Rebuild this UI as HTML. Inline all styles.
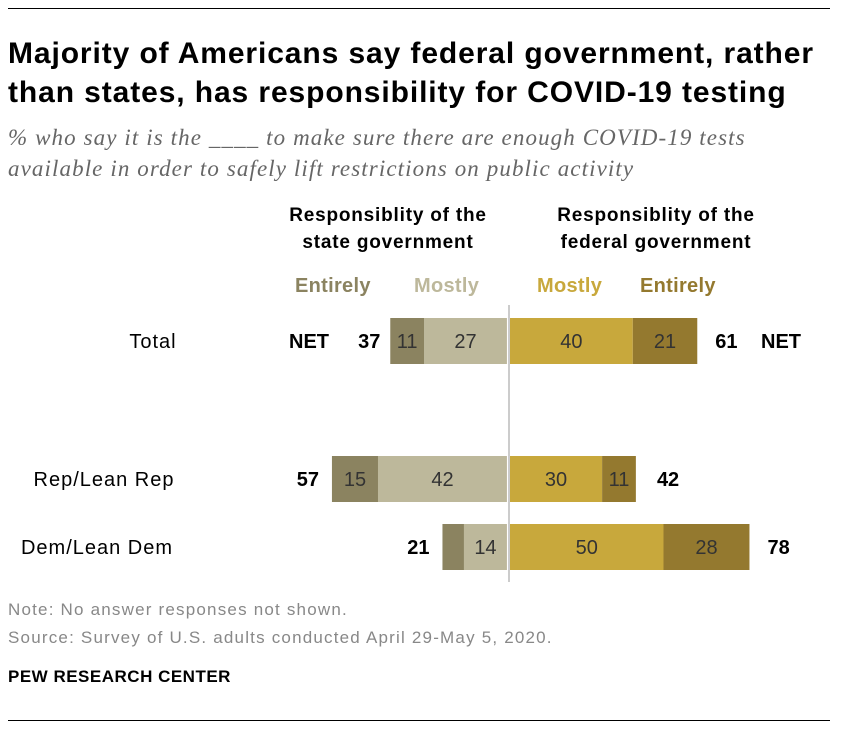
<!DOCTYPE html>
<html><head><meta charset="utf-8"><style>
body{margin:0;width:852px;height:734px;background:#fff;font-family:"Liberation Sans",sans-serif;position:relative;overflow:hidden}
.t{position:absolute;white-space:nowrap}
</style></head><body>
<div class="t" style="left:8px;top:8px;width:822px;height:1px;background:#000"></div>
<div class="t" style="left:8px;top:34px;font-size:30px;letter-spacing:0.9px;font-weight:bold;line-height:39px;color:#000">Majority of Americans say federal government, rather<br>than states, has responsibility for COVID-19 testing</div>
<div class="t" style="left:8px;top:122px;font-family:'Liberation Serif',serif;font-style:italic;font-size:23px;letter-spacing:1.1px;line-height:31px;color:#666">% who say it is the ____ to make sure there are enough COVID-19 tests<br>available in order to safely lift restrictions on public activity</div>
<div class="t" style="left:388px;top:202px;transform:translateX(-50%);text-align:center;font-size:19px;letter-spacing:0.8px;font-weight:bold;line-height:27px">Responsiblity of the<br>state government</div>
<div class="t" style="left:656px;top:202px;transform:translateX(-50%);text-align:center;font-size:19px;letter-spacing:0.8px;font-weight:bold;line-height:27px">Responsiblity of the<br>federal government</div>
<div class="t" style="left:295px;top:275px;font-size:20px;letter-spacing:0.3px;font-weight:bold;color:#8b8360">Entirely</div>
<div class="t" style="left:414px;top:275px;font-size:20px;letter-spacing:0.3px;font-weight:bold;color:#bdb89b">Mostly</div>
<div class="t" style="left:537px;top:275px;font-size:20px;letter-spacing:0.3px;font-weight:bold;color:#c8a83c">Mostly</div>
<div class="t" style="left:640px;top:275px;font-size:20px;letter-spacing:0.3px;font-weight:bold;color:#94792f">Entirely</div>
<svg id="chart" style="position:absolute;left:0;top:0" width="852" height="734"></svg>
<div class="t" style="left:8px;top:600px;font-size:17px;letter-spacing:1.2px;color:#888">Note: No answer responses not shown.</div>
<div class="t" style="left:8px;top:628px;font-size:17px;letter-spacing:1.2px;color:#888">Source: Survey of U.S. adults conducted April 29-May 5, 2020.</div>
<div class="t" style="left:8px;top:667px;font-size:17px;letter-spacing:0.5px;font-weight:bold">PEW RESEARCH CENTER</div>
<div class="t" style="left:8px;top:720px;width:822px;height:1px;background:#000"></div>
<script>
const categories=["Total","Rep/Lean Rep","Dem/Lean Dem"];
const stateEntirely=[11,15,7];
const stateMostly=[27,42,14];
const fedMostly=[40,30,50];
const fedEntirely=[21,11,28];
const stateNet=[37,57,21];
const fedNet=[61,42,78];
const ns="http://www.w3.org/2000/svg";
const svg=document.getElementById('chart');
const cx=510,k=3.07;
const rowY=[318,456,524],bh=46;
const labelCx=[153,104,97];
const x=v=>cx+v*k;
function add(tag,at,txt){const e=document.createElementNS(ns,tag);for(const a in at)e.setAttribute(a,at[a]);if(txt!==undefined)e.textContent=txt;svg.appendChild(e);return e;}
function seg(x0,x1,y,c,v,name){
 const r=add('rect',{x:Math.min(x0,x1),y:y,width:Math.abs(x1-x0),height:bh,fill:c});
 
 
 if(Math.abs(x1-x0)>24){const t=add('text',{x:(x0+x1)/2,y:y+bh/2+7,'text-anchor':'middle','font-size':20,fill:'#333','font-family':'Liberation Sans'},v);
 
 }
}
categories.forEach((c,i)=>{
 const y=rowY[i];
 const lab=add('text',{x:labelCx[i],y:y+bh/2+7,'text-anchor':'middle','font-size':20,'letter-spacing':1,fill:'#000','font-family':'Liberation Sans'},c);
 
 
 seg(x(-1),x(-1-stateMostly[i]),y,'#bdb89b',stateMostly[i],'bar-state-mostly');
 seg(x(-1-stateMostly[i]),x(-1-stateMostly[i]-stateEntirely[i]),y,'#8b8360',stateEntirely[i],'bar-state-entirely');
 seg(x(0),x(fedMostly[i]),y,'#c8a83c',fedMostly[i],'bar-federal-mostly');
 seg(x(fedMostly[i]),x(fedMostly[i]+fedEntirely[i]),y,'#94792f',fedEntirely[i],'bar-federal-entirely');
 const l=add('text',{x:x(-stateNet[i])-16,y:y+bh/2+7,'text-anchor':'end','font-size':20,'font-weight':'bold','font-family':'Liberation Sans'},stateNet[i]);
 
 
 const r=add('text',{x:x(fedNet[i])+18,y:y+bh/2+7,'font-size':20,'font-weight':'bold','font-family':'Liberation Sans'},fedNet[i]);
 
 
});
const n1=add('text',{x:289,y:rowY[0]+bh/2+7,'font-size':20,'font-weight':'bold','font-family':'Liberation Sans'},'NET');


const n2=add('text',{x:761,y:rowY[0]+bh/2+7,'font-size':20,'font-weight':'bold','font-family':'Liberation Sans'},'NET');


const ln=add('line',{x1:cx-1,x2:cx-1,y1:305,y2:582,stroke:'#ccc','stroke-width':2});


</script>
</body></html>
